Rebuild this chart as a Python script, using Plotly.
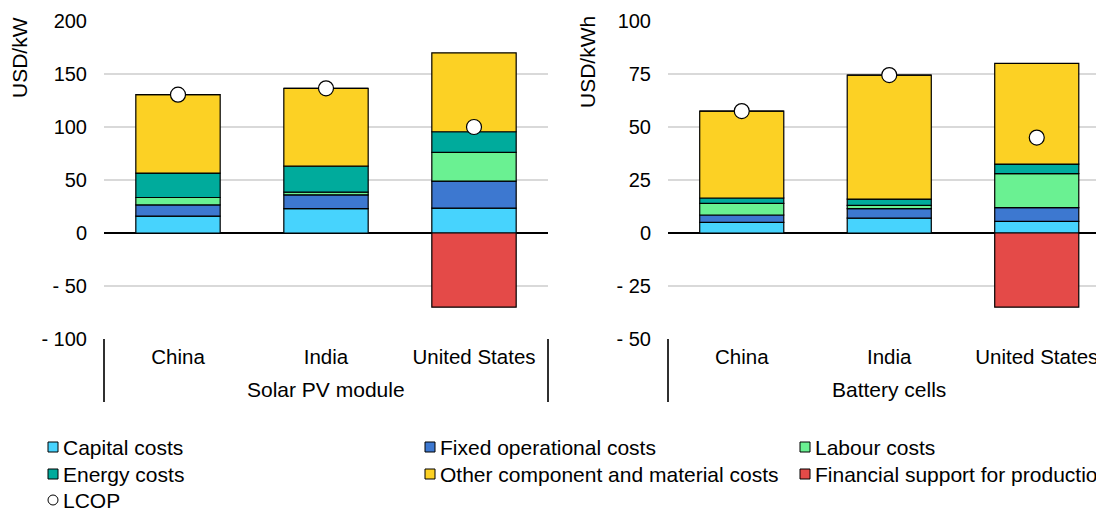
# -----------------------------
# IMPORTS
# -----------------------------
import plotly.graph_objects as go
from plotly.subplots import make_subplots

# -----------------------------
# 1. DATA
# -----------------------------
countries = ["China", "India", "United States"]
solar_group = "Solar PV module"
battery_group = "Battery cells"

# Solar PV module, USD/kW
solar_capital = [16, 23, 23.5]
solar_fixed = [10.5, 13, 25.5]
solar_labour = [7, 2.5, 27]
solar_energy = [23, 24.5, 19.5]
solar_other = [74, 73.5, 74.5]
solar_support = [0, 0, -70]
solar_lcop = [130.5, 136.5, 100]

# Battery cells, USD/kWh
batt_capital = [5, 7, 5.5]
batt_fixed = [3.5, 4.5, 6.5]
batt_labour = [5.5, 1.5, 16]
batt_energy = [2.5, 3, 4.5]
batt_other = [41, 58.5, 47.5]
batt_support = [0, 0, -35]
batt_lcop = [57.5, 74.5, 45]

solar_ticks = [-100, -50, 0, 50, 100, 150, 200]
solar_ticktext = ["- 100", "- 50", "0", "50", "100", "150", "200"]
batt_ticks = [-50, -25, 0, 25, 50, 75, 100]
batt_ticktext = ["- 50", "- 25", "0", "25", "50", "75", "100"]

# name, colour, solar values, battery values
components = [
    ("Capital costs", "#47D3FD", solar_capital, batt_capital),
    ("Fixed operational costs", "#3D78D0", solar_fixed, batt_fixed),
    ("Labour costs", "#6AF192", solar_labour, batt_labour),
    ("Energy costs", "#00AB9C", solar_energy, batt_energy),
    ("Other component and material costs", "#FCD124", solar_other, batt_other),
    ("Financial support for production", "#E44A48", solar_support, batt_support),
]

FONT = "Arial, Liberation Sans, sans-serif"
PAGE_OFF = 8  # the page body adds an 8px margin around the figure
W, H = 1104 - PAGE_OFF, 509 - PAGE_OFF

# -----------------------------
# 2. FIGURE
# -----------------------------
fig = make_subplots(rows=1, cols=2)

for name, color, sv, bv in components:
    for col, vals in [(1, sv), (2, bv)]:
        fig.add_trace(go.Bar(
            x=countries, y=vals, name=name,
            marker=dict(color=color, line=dict(color="black", width=1.2)),
            width=0.57, showlegend=False,
        ), row=1, col=col)

for col, vals in [(1, solar_lcop), (2, batt_lcop)]:
    fig.add_trace(go.Scatter(
        x=countries, y=vals, name="LCOP", mode="markers",
        marker=dict(symbol="circle", size=15, color="white",
                    line=dict(color="black", width=1.2)),
        showlegend=False,
    ), row=1, col=col)

# -----------------------------
# 3. LAYOUT
# -----------------------------
top, bottom = 21 - PAGE_OFF, 339 - PAGE_OFF

def fx(p):
    # page x pixel -> paper x
    return (p - PAGE_OFF) / W

def fy(p):
    # page y pixel -> paper y
    return (bottom - (p - PAGE_OFF)) / (bottom - top)

left_dom = [fx(104), fx(548)]
right_dom = [fx(668), 1.0]
# the right chart runs past the page edge, so its last category is cut a bit
right_end = 2.5 - (1110.5 - 1104) / 147.5

fig.update_layout(
    width=W, height=H,
    margin=dict(l=0, r=0, t=top, b=H - bottom, autoexpand=False),
    barmode="relative", showlegend=False,
    plot_bgcolor="white", paper_bgcolor="white",
    font=dict(family=FONT, size=20, color="black"),
)

fig.update_xaxes(
    type="category", showgrid=False, showline=False, ticks="",
    ticklabelstandoff=3,
    tickfont=dict(family=FONT, size=20.5, color="black"),
)
fig.update_xaxes(domain=left_dom, range=[-0.5, 2.5], row=1, col=1)
fig.update_xaxes(domain=right_dom, range=[-0.5, right_end], row=1, col=2)

fig.update_yaxes(
    showgrid=True, gridcolor="#D9D9D9", gridwidth=1.5,
    zeroline=True, zerolinecolor="black", zerolinewidth=2,
    showline=False, ticks="", ticklabelstandoff=16,
    tickfont=dict(family=FONT, size=20, color="black"),
)
fig.update_yaxes(range=[-100, 200], tickvals=solar_ticks, ticktext=solar_ticktext, row=1, col=1)
fig.update_yaxes(range=[-50, 100], tickvals=batt_ticks, ticktext=batt_ticktext, row=1, col=2)

# axis titles sit near the top, like the original
for xp, yp, text in [(20, 58, "USD/kW"), (588, 62, "USD/kWh")]:
    fig.add_annotation(
        x=fx(xp), y=fy(yp), xref="paper", yref="paper",
        text=text, textangle=-90, showarrow=False,
        xanchor="center", yanchor="middle",
        font=dict(family=FONT, size=21, color="black"),
    )

# group labels and divider lines under each chart
groups = [
    ((left_dom[0] + left_dom[1]) / 2, solar_group, left_dom),
    ((fx(668) + fx(1110.5)) / 2, battery_group, right_dom[:1]),
]
for xc, label, dividers in groups:
    fig.add_annotation(
        x=xc, y=fy(389), xref="paper", yref="paper",
        text=label, showarrow=False, xanchor="center", yanchor="middle",
        font=dict(family=FONT, size=21, color="black"),
    )
    for xd in dividers:
        fig.add_shape(
            type="line", xref="paper", yref="paper",
            x0=xd, x1=xd, y0=0, y1=fy(402),
            line=dict(color="#303030", width=2),
        )

# -----------------------------
# 4. LEGEND (three columns, like the original)
# -----------------------------
legend_cols = [48, 425, 800]
legend_rows = [447, 474, 500]
legend_items = [(c[0], c[1]) for c in components] + [("LCOP", None)]
sw = 10  # swatch size in pixels

for i, (name, color) in enumerate(legend_items):
    cx = legend_cols[i % 3]
    cy = legend_rows[i // 3]
    shape_type = "rect" if color else "circle"
    fig.add_shape(
        type=shape_type, xref="paper", yref="paper",
        x0=fx(cx), x1=fx(cx + sw),
        y0=fy(cy - sw / 2), y1=fy(cy + sw / 2),
        fillcolor=color if color else "white",
        line=dict(color="black", width=1),
    )
    fig.add_annotation(
        x=fx(cx + sw + 3), y=fy(cy), xref="paper", yref="paper",
        text=name, showarrow=False, xanchor="left", yanchor="middle",
        font=dict(family=FONT, size=21, color="black"),
    )

fig.write_html("out.html")
